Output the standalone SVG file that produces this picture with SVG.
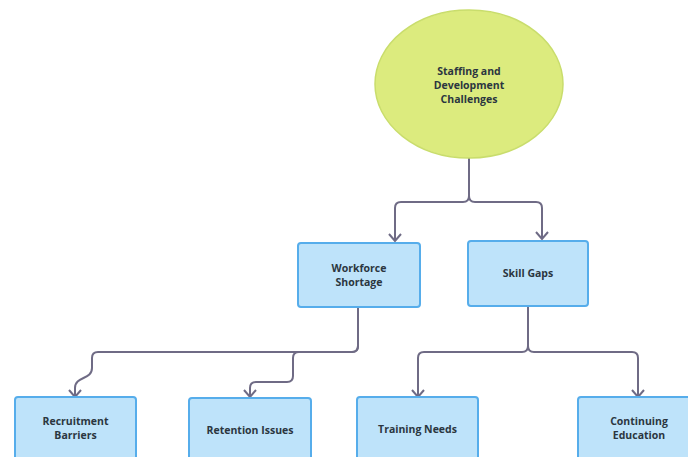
<svg xmlns="http://www.w3.org/2000/svg" width="688" height="457" viewBox="0 0 688 457">
<defs>
<style>
.box{fill:#BEE3FA;stroke:#56ADEB;stroke-width:2}
.el{fill:#DCEB7E;stroke:#C9DD6C;stroke-width:1.5}
.t{font-family:"Open Sans","Liberation Sans",sans-serif;font-weight:700;font-size:10.5px;fill:#2B3640;text-anchor:middle}
.c{fill:none;stroke:#6F6B85;stroke-width:2;marker-end:url(#ah)}
</style>
<marker id="ah" markerUnits="userSpaceOnUse" markerWidth="12" markerHeight="16" refX="10" refY="8" orient="auto" viewBox="0 0 12 16">
<path d="M3,2 L10,8 L3,14" fill="none" stroke="#6F6B85" stroke-width="2"/>
</marker>
</defs>
<rect width="688" height="457" fill="#FFFFFF"/>
<g id="connectors">
<path class="c" d="M469,158 V196 Q469,202 463,202 H401 Q395,202 395,208 V241"/>
<path class="c" d="M469,158 V196 Q469,202 475,202 H536 Q542,202 542,208 V239"/>
<path class="c" d="M358,307 V346 Q358,352 352,352 H98 Q92,352 92,358 V368 C92,380 75,376 75,388 V397"/>
<path class="c" d="M358,307 V346 Q358,352 352,352 H299 Q293,352 293,358 V376 Q293,382 287,382 H256 Q250,382 250,388 V397"/>
<path class="c" d="M528,306 V346 Q528,352 522,352 H424 Q418,352 418,358 V397"/>
<path class="c" d="M528,306 V346 Q528,352 534,352 H632 Q638,352 638,358 V397"/>
</g>
<g id="root">
<ellipse class="el" cx="469" cy="84" rx="94" ry="74"/>
<text class="t" x="469" y="75">Staffing and</text>
<text class="t" x="469" y="89">Development</text>
<text class="t" x="469" y="103">Challenges</text>
</g>
<g id="workforce">
<rect class="box" x="298" y="243" width="122" height="64" rx="3"/>
<text class="t" x="359" y="272">Workforce</text>
<text class="t" x="359" y="286">Shortage</text>
</g>
<g id="skill">
<rect class="box" x="468" y="241" width="120" height="65" rx="3"/>
<text class="t" x="528" y="277">Skill Gaps</text>
</g>
<g id="recruitment">
<rect class="box" x="15" y="397" width="121" height="66" rx="3"/>
<text class="t" x="75.5" y="425">Recruitment</text>
<text class="t" x="75.5" y="439">Barriers</text>
</g>
<g id="retention">
<rect class="box" x="189" y="398" width="122" height="66" rx="3"/>
<text class="t" x="250" y="434">Retention Issues</text>
</g>
<g id="training">
<rect class="box" x="357" y="397" width="121" height="66" rx="3"/>
<text class="t" x="417.5" y="433">Training Needs</text>
</g>
<g id="continuing">
<rect class="box" x="578" y="397" width="122" height="66" rx="3"/>
<text class="t" x="639" y="425">Continuing</text>
<text class="t" x="639" y="439">Education</text>
</g>
</svg>
